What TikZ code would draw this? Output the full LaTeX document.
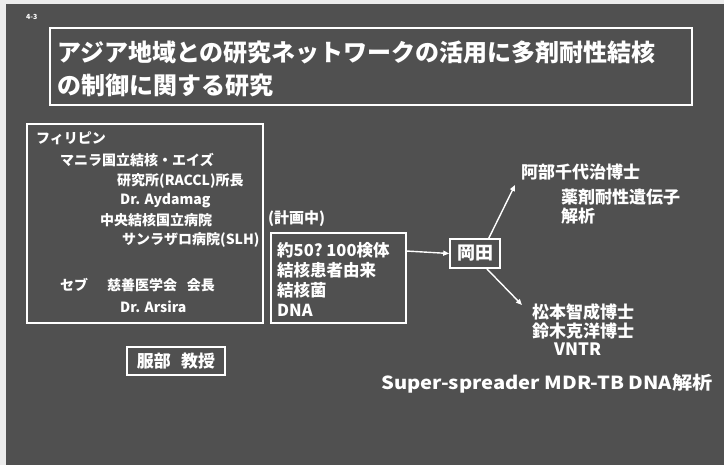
\documentclass[tikz,border=0pt]{standalone}
\usepackage{fontspec}
\setmainfont{Noto Sans CJK JP}
\usetikzlibrary{arrows.meta}
\definecolor{bg}{RGB}{80,80,80}
\tikzset{
  txt/.style={text=white, inner sep=0pt, anchor=west, font=\fontsize{#1}{#1}\selectfont\bfseries},
  wbox/.style={draw=white, line width=1.6pt},
  arr/.style={draw=white, line width=1.4pt, -{Triangle[length=6pt,width=5pt]}},
}
\begin{document}
\begin{tikzpicture}[x=1pt,y=-1pt]
\useasboundingbox (0,0) rectangle (724,465);
\fill[white!85!gray] (0,0) rectangle (724,465);
\fill[bg] (6,4) rectangle (724,465);
% page number
\node[txt=7] (pg) at (26,17) {4-3};
% title
\draw[wbox] (50,28) rectangle (692,105);
\node[txt=24] (t1) at (57,52) {アジア地域との研究ネットワークの活用に多剤耐性結核};
\node[txt=24] (t2) at (57,85) {の制御に関する研究};
% left box
\draw[wbox] (27,124) rectangle (263,323);
\node[txt=14] (l1) at (36,138) {フィリピン};
\node[txt=14] (l2) at (60,160) {マニラ国立結核・エイズ};
\node[txt=14] (l3) at (117,181) {研究所(RACCL)所長};
\node[txt=14] (l4) at (120,201) {Dr. Aydamag};
\node[txt=14] (l5) at (100,220) {中央結核国立病院};
\node[txt=14] (l6) at (122,240) {サンラザロ病院(SLH)};
\node[txt=14] (l7) at (60,285) {セブ};
\node[txt=14] (l8) at (107,285) {慈善医学会\hspace{0.7em}会長};
\node[txt=14] (l9) at (120,307) {Dr. Arsira};
% hattori
\node[wbox, txt=17, anchor=center, minimum width=98pt, minimum height=28pt] (hat) at (176,361) {服部\hspace{0.6em}教授};
% plan
\node[txt=15] (plan) at (268,219) {(計画中)};
\draw[wbox] (271,233) rectangle (406,323);
\node[txt=16.5] (s1) at (277,250) {約50?\ 100検体};
\node[txt=16.5] (s2) at (277,270) {結核患者由来};
\node[txt=16.5] (s3) at (277,290) {結核菌};
\node[txt=16.5] (s4) at (277,310) {DNA};
\coordinate (sbox) at (406,251);
% okada
\node[wbox, txt=18, anchor=center, minimum width=50pt, minimum height=29pt] (oka) at (475,253.5) {岡田};
\draw[arr] (sbox) -- (oka.west);
% right texts
\node[txt=17] (r1) at (521,172) {阿部千代治博士};
\node[txt=17] (r2) at (561,197) {薬剤耐性遺伝子};
\node[txt=17] (r3) at (561,216) {解析};
\node[txt=17] (r4) at (532,312) {松本智成博士};
\node[txt=17] (r5) at (532,331) {鈴木克洋博士};
\node[txt=17] (r6) at (554,349) {VNTR};
\node[txt=18] (r7) at (381,384) {\scalebox{1.12}[1]{Super-spreader MDR-TB DNA解析}};
\coordinate (up) at (515,185);
\coordinate (dn) at (522,305);
\draw[arr] ([xshift=-12pt]oka.north east) -- (up);
\draw[arr] ([xshift=-14pt]oka.south east) -- (dn);
\end{tikzpicture}
\end{document}
